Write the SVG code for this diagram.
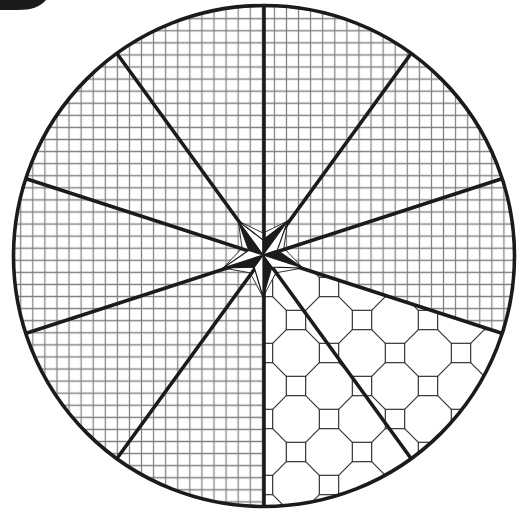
<svg xmlns="http://www.w3.org/2000/svg" width="520" height="510" viewBox="0 0 520 510">
<style>
.ray{stroke:#1c1a1a;stroke-width:3.6;stroke-linecap:butt;fill:none}
.rim{stroke:#1c1a1a;stroke-width:3.6;fill:none}
.blk{fill:#1c1a1a;stroke:#1c1a1a;stroke-width:1.2;stroke-linejoin:round}
.wht{fill:#fff;stroke:#1c1a1a;stroke-width:1.2;stroke-linejoin:round}
.out{fill:#fff;stroke:#1c1a1a;stroke-width:0.9;stroke-linejoin:miter}
</style>
<defs>
<clipPath id="disc"><circle cx="264" cy="256" r="250.5"/></clipPath>
<pattern id="grid" patternUnits="userSpaceOnUse" x="26.76" y="12.66" width="12.08" height="12.08">
<path d="M6.04 0V12.08M0 6.04H12.08" stroke="#7d7d7d" stroke-width="1.2" fill="none"/>
</pattern>
<pattern id="octa" patternUnits="userSpaceOnUse" x="296" y="320" width="66" height="66">
<g stroke="#333" stroke-width="1.2" fill="none">
<rect x="-9.67" y="-9.67" width="19.33" height="19.33"/>
<rect x="56.33" y="-9.67" width="19.33" height="19.33"/>
<rect x="-9.67" y="56.33" width="19.33" height="19.33"/>
<rect x="56.33" y="56.33" width="19.33" height="19.33"/>
<rect x="23.33" y="23.33" width="19.33" height="19.33"/>
<path d="M9.67 9.67L23.33 23.33M56.33 9.67L42.67 23.33M9.67 56.33L23.33 42.67M56.33 56.33L42.67 42.67"/>
</g>
</pattern>
</defs>
<path id="corner" d="M0 0H46C40 7 31 10 18 10H0Z" fill="#1c1a1a"/>
<g id="fill" clip-path="url(#disc)">
<rect x="0" y="0" width="520" height="510" fill="#fff"/>
<rect x="0" y="0" width="520" height="510" fill="url(#grid)"/>
<path d="M264 256L501.8 333.3A250 250 0 0 1 264 506Z" fill="#fff"/>
<path d="M264 256L501.8 333.3A250 250 0 0 1 264 506Z" fill="url(#octa)"/>
</g>
<g id="star-back">
<polygon class="out" points="238.31,221.02 263,233 287.69,221.02 283.92,248.2 302.94,267.98 275.93,272.8 263,297 250.07,272.8 223.06,267.98 242.08,248.2"/>
</g>
<g id="connectors">
<path class="ray" d="M264 256L264 6M264 256L410.9 53.7M264 256L501.8 178.7M264 256L501.8 333.3M264 256L410.9 458.3M264 256L264 506M264 256L117.1 458.3M264 256L26.2 333.3M264 256L26.2 178.7M264 256L117.1 53.7"/>
</g>
<g id="rim"><circle class="rim" cx="264" cy="256" r="250.5"/></g>
<g id="star">
<polygon class="blk" points="263,255 248.73,250.36 238.31,221.02"/>
<polygon class="wht" points="263,255 238.31,221.02 263,240"/>
<polygon class="blk" points="263,255 263,240 287.69,221.02"/>
<polygon class="wht" points="263,255 287.69,221.02 277.27,250.36"/>
<polygon class="blk" points="263,255 277.27,250.36 302.94,267.98"/>
<polygon class="wht" points="263,255 302.94,267.98 271.82,267.14"/>
<polygon class="blk" points="263,255 271.82,267.14 263,297"/>
<polygon class="wht" points="263,255 263,297 254.18,267.14"/>
<polygon class="blk" points="263,255 254.18,267.14 223.06,267.98"/>
<polygon class="wht" points="263,255 223.06,267.98 248.73,250.36"/>
</g>
</svg>
